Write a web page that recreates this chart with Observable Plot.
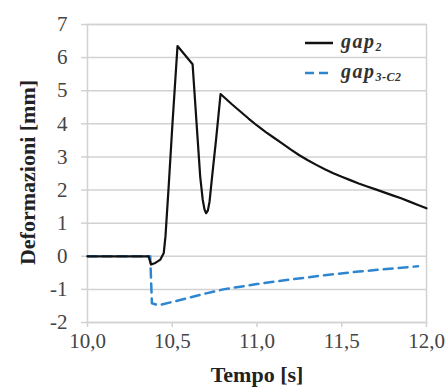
<!DOCTYPE html>
<html>
<head>
<meta charset="utf-8">
<script src="https://cdn.jsdelivr.net/npm/d3@7"></script>
<script src="https://cdn.jsdelivr.net/npm/@observablehq/plot@0.6"></script>
<style>
  body { margin: 0; background: #fff; }
  #wrap { position: relative; width: 445px; height: 389px; overflow: hidden; }
  #wrap svg, #wrap svg g, #wrap svg text, .leg { font-family: "Liberation Serif", "Times New Roman", serif !important; }
  .leg { position: absolute; left: 305px; font-weight: bold; font-style: italic; font-size: 20px; color: #333; letter-spacing: 1.5px; display: flex; align-items: center; background: #fff; padding-right: 6px; }
  .leg svg { margin-right: 8px; }
  .leg sub { font-size: 12px; letter-spacing: 0.5px; vertical-align: -3px; }
</style>
</head>
<body>
<div id="wrap"></div>
<script>
// gap2 (solid black)
const gap2T = [10.0, 10.2, 10.36, 10.375, 10.40, 10.43, 10.45, 10.46, 10.48, 10.50, 10.531, 10.62, 10.645, 10.665, 10.68, 10.69, 10.70, 10.71, 10.72, 10.735, 10.76, 10.785,
  10.85, 10.9, 10.95, 11.0, 11.05, 11.1, 11.15, 11.2, 11.25, 11.3, 11.35, 11.4, 11.45, 11.5, 11.55, 11.6, 11.65, 11.7, 11.75, 11.8, 11.85, 11.9, 11.95, 12.0];
const gap2V = [0, 0, 0, -0.25, -0.2, -0.1, 0.1, 0.6, 2.2, 3.9, 6.35, 5.8, 3.9, 2.4, 1.7, 1.42, 1.3, 1.38, 1.65, 2.4, 3.6, 4.9,
  4.6, 4.38, 4.16, 3.95, 3.76, 3.58, 3.4, 3.22, 3.05, 2.9, 2.76, 2.63, 2.51, 2.4, 2.3, 2.2, 2.11, 2.02, 1.93, 1.84, 1.75, 1.65, 1.55, 1.45];
// gap3-C2 (dashed blue)
const gap3T = [10.0, 10.2, 10.37, 10.38, 10.42, 10.5, 10.6, 10.7, 10.8, 10.9, 11.0, 11.2, 11.4, 11.6, 11.8, 11.95];
const gap3V = [0, 0, 0, -1.42, -1.48, -1.38, -1.25, -1.12, -1.0, -0.92, -0.84, -0.7, -0.57, -0.46, -0.37, -0.3];

const xTicks = [10, 10.5, 11, 11.5, 12];
const yTicks = [-2, -1, 0, 1, 2, 3, 4, 5, 6, 7];

const s1 = gap2T.map((t, i) => ({t, v: gap2V[i]}));
const s2 = gap3T.map((t, i) => ({t, v: gap3V[i]}));

const gridColor = "#d2d2d2";
const blue = "#2e86d0";
const serif = "'Liberation Serif', 'Times New Roman', serif";

const chart = Plot.plot({
  width: 445,
  height: 389,
  marginLeft: 87,
  marginRight: 19,
  marginTop: 24,
  marginBottom: 67,
  style: { fontFamily: serif, fontSize: "16px", background: "#fff", overflow: "visible" },
  x: { domain: [10, 12] },
  y: { domain: [-2, 7] },
  marks: [
    Plot.gridY(yTicks, { stroke: gridColor, strokeOpacity: 1, strokeWidth: 1.5 }),
    Plot.frame({ stroke: gridColor, strokeWidth: 1.5 }),
    Plot.axisY(yTicks, { tickSize: 6, tickPadding: 14, stroke: gridColor, strokeOpacity: 1, strokeWidth: 1.5, fill: "#444", label: null, fontSize: 21, fontFamily: serif, tickFormat: d => String(d) }),
    Plot.axisX(xTicks, { tickSize: 5, tickPadding: 6, stroke: gridColor, strokeOpacity: 1, strokeWidth: 1.5, fill: "#444", label: null, fontSize: 21, fontFamily: serif, tickFormat: d => d.toFixed(1).replace(".", ",") }),
    Plot.line(s2, { x: "t", y: "v", stroke: blue, strokeWidth: 2.5, strokeDasharray: "9,6" }),
    Plot.line(s1, { x: "t", y: "v", stroke: "#111", strokeWidth: 2.2 }),
    Plot.text(["Tempo [s]"], { frameAnchor: "bottom", dy: 59, fontWeight: "bold", fontSize: 22, fontFamily: serif, fill: "#222" }),
    Plot.text(["Deformazioni [mm]"], { frameAnchor: "left", textAnchor: "middle", dx: -60, dy: -1, rotate: -90, fontWeight: "bold", fontSize: 22, fontFamily: serif, fill: "#222" })
  ]
});

const wrap = document.getElementById("wrap");
wrap.appendChild(chart);

const legendItems = [
  { name: "gap", sub: "2", stroke: "#111", dash: null, top: 30 },
  { name: "gap", sub: "3-C2", stroke: blue, dash: "9,5", top: 60 }
];
for (const it of legendItems) {
  const d = document.createElement("div");
  d.className = "leg";
  d.style.top = it.top + "px";
  d.innerHTML = `<svg width="28" height="10"><line x1="0" y1="5" x2="28" y2="5" stroke="${it.stroke}" stroke-width="2.5" ${it.dash ? `stroke-dasharray="${it.dash}"` : ""}/></svg><span>${it.name}<sub>${it.sub}</sub></span>`;
  wrap.appendChild(d);
}
</script>
</body>
</html>
